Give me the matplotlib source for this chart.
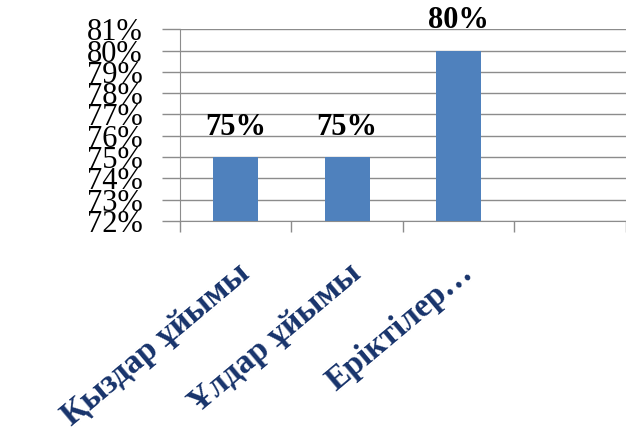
import numpy as np
import matplotlib
matplotlib.use("Agg")
import matplotlib.pyplot as plt
from matplotlib.ticker import FuncFormatter

plt.rcParams['font.family'] = ['Liberation Serif', 'DejaVu Serif']

# данные
categories = ['Қыздар ұйымы', 'Ұлдар ұйымы', 'Еріктілер…', '']
values = [75, 75, 80, np.nan]
y_ticks = list(range(72, 82))

bar_color = '#4F81BD'
grid_color = '#8C8C8C'
label_color = '#17336B'

fig = plt.figure(figsize=(6.26, 4.36), dpi=100)
ax = fig.add_axes([0.2875, 0.493, 0.7125, 0.44])

x = np.arange(len(categories))
ax.bar(x, values, width=0.4, color=bar_color, zorder=3)

for xi, v in zip(x, values):
    if not np.isnan(v):
        ax.annotate('%d%%' % v, (xi, v), xytext=(0, 11), textcoords='offset points',
                    ha='center', va='bottom', fontsize=22, fontweight='bold', color='black')

ax.set_ylim(72, 81)
ax.set_xlim(-0.5, 3.5)
ax.set_yticks(y_ticks)
ax.yaxis.set_major_formatter(FuncFormatter(lambda v, p: '%d%%' % v))
ax.grid(axis='y', color=grid_color, linewidth=1, zorder=0)

# засечки на границах категорий
ax.set_xticks(np.arange(-0.5, 3.6, 1.0))
ax.set_xticklabels([])
ax.set_xticks(x, minor=True)
ax.set_xticklabels(categories, minor=True, rotation=40, ha='right', va='top',
                   rotation_mode='anchor', fontsize=24, fontweight='bold', color=label_color)
ax.tick_params(axis='x', which='minor', length=0, pad=26)
ax.tick_params(axis='x', which='major', length=8, color=grid_color, width=1)
ax.tick_params(axis='y', length=13, color=grid_color, width=1, labelsize=22, pad=14)

for side in ['top', 'right']:
    ax.spines[side].set_visible(False)
ax.spines['left'].set_color(grid_color)
ax.spines['bottom'].set_color(grid_color)

fig.savefig('out.png', dpi=100)
